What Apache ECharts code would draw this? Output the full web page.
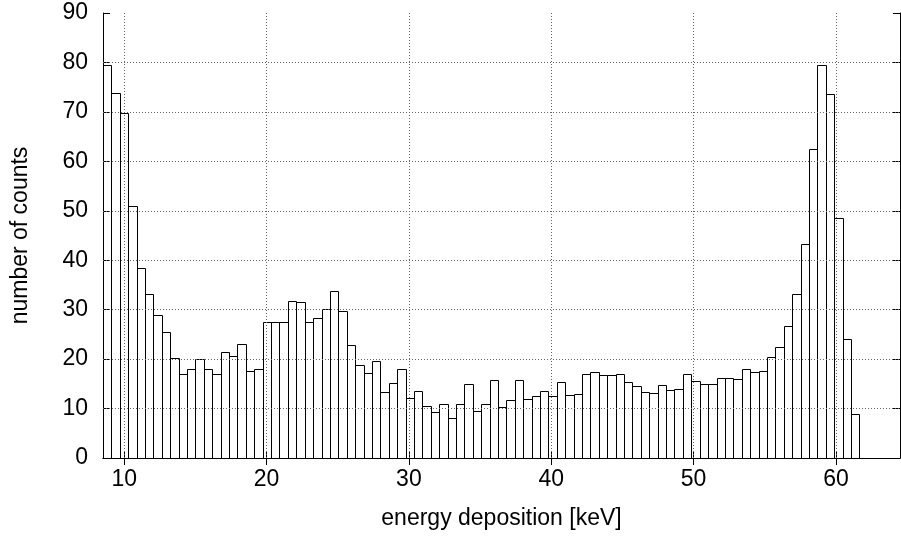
<!DOCTYPE html>
<html>
<head>
<meta charset="utf-8">
<script src="https://cdn.jsdelivr.net/npm/echarts@6/dist/echarts.min.js"></script>
<style>html,body{margin:0;padding:0;background:#fff}#c{width:901px;height:536px}</style>
</head>
<body>
<div id="c"></div>
<script>
// histogram bins (keV)
const binStart = 8.51;
const binWidth = 0.5904;
const counts = [
  79.4, 73.8, 69.8, 51.0, 38.4, 33.1, 29.0, 25.4, 20.2, 17.0,
  17.9, 20.0, 18.0, 16.9, 21.4, 20.6, 23.0, 17.6, 17.9, 27.6,
  27.6, 27.5, 31.8, 31.6, 27.5, 28.4, 30.2, 33.7, 29.8, 22.9,
  18.9, 17.2, 19.7, 13.3, 15.2, 18.0, 12.2, 13.5, 10.5, 9.3,
  10.9, 8.0, 10.9, 14.9, 9.6, 10.9, 15.7, 10.3, 11.7, 15.7,
  11.9, 12.6, 13.6, 12.6, 15.4, 12.7, 13.0, 17.0, 17.4, 16.7,
  16.7, 17.0, 15.3, 14.5, 13.4, 13.1, 14.7, 13.8, 14.0, 16.9,
  15.6, 14.9, 15.0, 16.1, 16.1, 15.9, 18.1, 17.3, 17.6, 20.5,
  22.5, 26.7, 33.2, 43.2, 62.4, 79.4, 73.7, 48.6, 24.1, 8.8
];
const xMin = 8.51, xMax = 64.5;
const xTicks = [10, 20, 30, 40, 50, 60];
const yMin = 0, yMax = 90, yStep = 10;
const yGrid = [10, 20, 30, 40, 50, 60, 70, 80];

const FONT = 'Liberation Sans';
const FS = 23;
const gridStyle = { color: '#666', width: 1, type: [1, 2] };

const data = counts.map((v, i) => [binStart + i * binWidth, v]);

const chart = echarts.init(document.getElementById('c'), null, { renderer: 'canvas' });
chart.setOption({
  animation: false,
  backgroundColor: '#fff',
  grid: { left: 103, right: 1, top: 13, bottom: 78, containLabel: false },
  xAxis: [
    {
      type: 'value', min: xMin, max: xMax, position: 'bottom',
      name: 'energy deposition [keV]', nameLocation: 'middle', nameGap: 49,
      nameTextStyle: { fontFamily: FONT, fontSize: FS, color: '#000' },
      axisLine: { show: true, lineStyle: { color: '#000', width: 1 } },
      axisTick: { show: true, inside: true, length: 7, customValues: xTicks, lineStyle: { color: '#000' } },
      axisLabel: { show: true, customValues: xTicks, margin: 10, fontFamily: FONT, fontSize: FS, color: '#000' },
      splitLine: { show: false }
    },
    {
      type: 'value', min: xMin, max: xMax, position: 'top',
      axisLine: { show: true, lineStyle: { color: '#000', width: 1 } },
      axisTick: { show: true, inside: true, length: 7, customValues: xTicks, lineStyle: { color: '#000' } },
      axisLabel: { show: false },
      splitLine: { show: false }
    }
  ],
  yAxis: [
    {
      type: 'value', min: yMin, max: yMax, interval: yStep, position: 'left',
      name: 'number of counts', nameLocation: 'middle', nameGap: 71,
      nameTextStyle: { fontFamily: FONT, fontSize: FS, color: '#000' },
      axisLine: { show: true, lineStyle: { color: '#000', width: 1 } },
      axisTick: { show: true, inside: true, length: 7, lineStyle: { color: '#000' } },
      axisLabel: { show: true, margin: 15, fontFamily: FONT, fontSize: FS, color: '#000' },
      splitLine: { show: false }
    },
    {
      type: 'value', min: yMin, max: yMax, interval: yStep, position: 'right',
      axisLine: { show: true, lineStyle: { color: '#000', width: 1 } },
      axisTick: { show: true, inside: true, length: 7, lineStyle: { color: '#000' } },
      axisLabel: { show: false },
      splitLine: { show: false }
    }
  ],
  series: [
    {
      type: 'line', data: [], silent: true,
      markLine: {
        silent: true, symbol: 'none', label: { show: false },
        lineStyle: gridStyle,
        data: xTicks.map(v => ({ xAxis: v })).concat(yGrid.map(v => ({ yAxis: v })))
      }
    },
    {
      type: 'custom',
      data: data,
      encode: { x: 0, y: 1 },
      renderItem: function (params, api) {
        const x0 = api.value(0);
        const v = api.value(1);
        const p0 = api.coord([x0, 0]);
        const p1 = api.coord([x0 + binWidth, v]);
        const l = Math.round(p0[0]) + 0.5;
        const r = Math.round(p1[0]) + 0.5;
        const t = Math.round(p1[1]) + 0.5;
        const b = Math.round(p0[1]) + 0.5;
        return {
          type: 'rect',
          shape: { x: l, y: t, width: r - l, height: b - t },
          style: { fill: 'rgba(255,255,255,0)', stroke: '#000', lineWidth: 1 }
        };
      },
      z: 3
    }
  ]
});
</script>
</body>
</html>
